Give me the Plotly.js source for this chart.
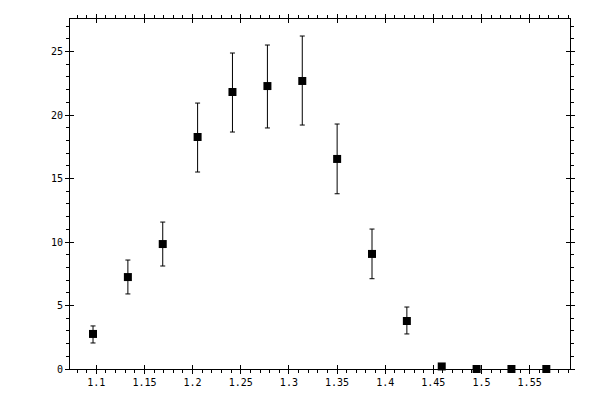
<!DOCTYPE html>
<html>
<head>
<meta charset="utf-8">
<script src="https://cdn.plot.ly/plotly-3.0.1.min.js"></script>
<style>html,body{margin:0;padding:0;background:#fff;}#chart{width:600px;height:400px;}</style>
</head>
<body>
<div id="chart"></div>
<script>
const xValues = [1.0966, 1.1328, 1.1690, 1.2052, 1.2414, 1.2777, 1.3139, 1.3501, 1.3863, 1.4225, 1.4587, 1.4949, 1.5311, 1.5673];
const yValues = [2.76, 7.24, 9.84, 18.27, 21.81, 22.28, 22.68, 16.54, 9.06, 3.78, 0.2, 0, 0, 0];
const yHigh   = [3.39, 8.58, 11.57, 20.94, 24.88, 25.51, 26.22, 19.29, 11.02, 4.88, 0.2, 0, 0, 0];
const yLow    = [2.05, 5.91, 8.11, 15.51, 18.66, 18.98, 19.21, 13.80, 7.11, 2.76, 0.2, 0, 0, 0];

const errPlus = yHigh.map((h, i) => h - yValues[i]);
const errMinus = yValues.map((v, i) => v - yLow[i]);

const xRange = [1.0727, 1.5919];
const yRange = [0, 27.56];

const data = [
  {
    x: xValues, y: yValues, type: 'scatter', mode: 'markers',
    marker: {symbol: 'square', size: 8, color: '#000'},
    error_y: {type: 'data', symmetric: false, array: errPlus, arrayminus: errMinus,
              color: '#000', thickness: 1, width: 2.5},
    cliponaxis: false, showlegend: false, hoverinfo: 'none'
  },
  {
    x: [xRange[0]], y: [yRange[0]], xaxis: 'x2', yaxis: 'y2', type: 'scatter', mode: 'markers',
    marker: {opacity: 0}, showlegend: false, hoverinfo: 'none'
  }
];

const tickFont = {family: 'DejaVu Sans Mono, monospace', size: 10, color: '#000'};

const layout = {
  width: 600, height: 400,
  margin: {l: 70, r: 30, t: 19, b: 31, pad: 0},
  paper_bgcolor: '#fff', plot_bgcolor: '#fff',
  showlegend: false,
  xaxis: {
    range: xRange, showgrid: false, zeroline: false,
    showline: true, linecolor: '#000', linewidth: 1, mirror: 'allticks',
    ticks: 'outside', ticklen: 4, tickwidth: 1, tickcolor: '#000',
    dtick: 0.05, tick0: 1.0,
    minor: {ticks: 'outside', ticklen: 3, tickwidth: 1, tickcolor: '#000', dtick: 0.01, tick0: 1.0, showgrid: false},
    tickfont: tickFont
  },
  yaxis: {
    range: yRange, showgrid: false, zeroline: false,
    showline: true, linecolor: '#000', linewidth: 1, mirror: 'allticks',
    ticks: 'outside', ticklen: 4, tickwidth: 1, tickcolor: '#000',
    dtick: 5, tick0: 0,
    minor: {ticks: 'outside', ticklen: 3, tickwidth: 1, tickcolor: '#000', dtick: 1, tick0: 0, showgrid: false},
    tickfont: tickFont
  },
  xaxis2: {
    overlaying: 'x', range: xRange, showgrid: false, zeroline: false, showline: false,
    mirror: 'allticks', ticks: 'inside', ticklen: 4, tickwidth: 1, tickcolor: '#000',
    dtick: 0.05, tick0: 1.0, showticklabels: false
  },
  yaxis2: {
    overlaying: 'y', range: yRange, showgrid: false, zeroline: false, showline: false,
    mirror: 'allticks', ticks: 'inside', ticklen: 4, tickwidth: 1, tickcolor: '#000',
    dtick: 5, tick0: 0, showticklabels: false
  }
};

Plotly.newPlot('chart', data, layout, {staticPlot: true, displayModeBar: false});
</script>
</body>
</html>
